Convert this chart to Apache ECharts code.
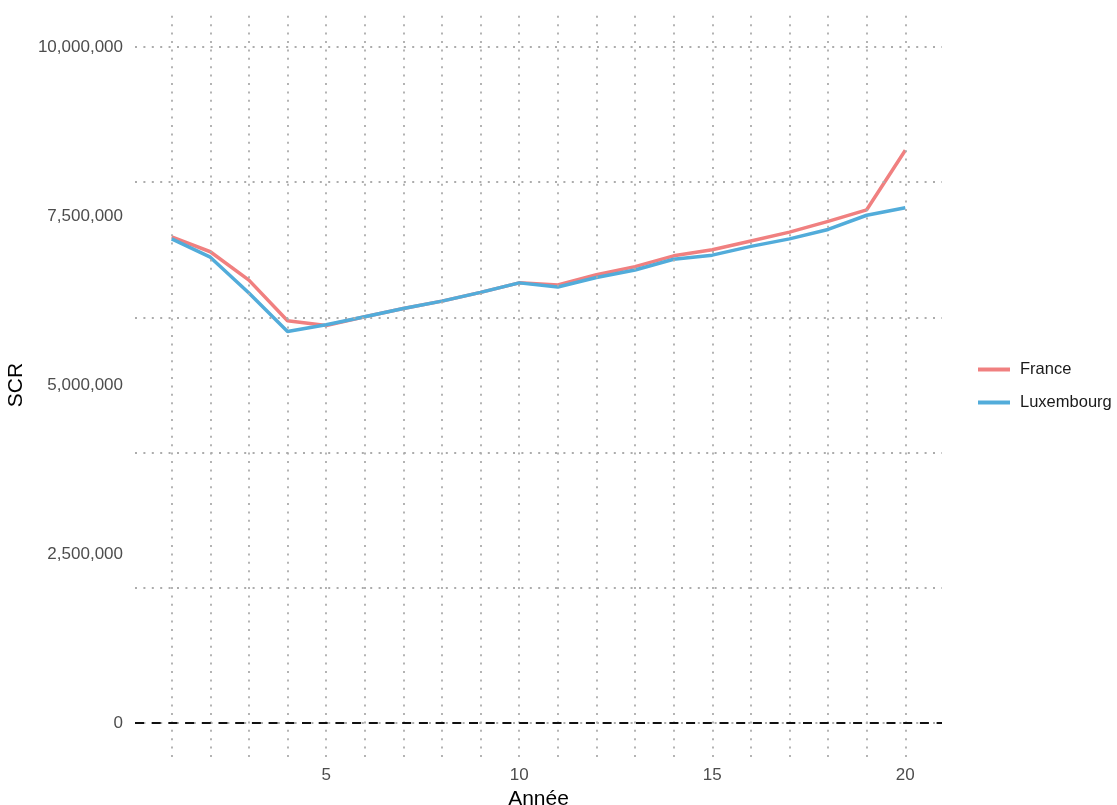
<!DOCTYPE html>
<html>
<head>
<meta charset="utf-8">
<script src="https://cdn.jsdelivr.net/npm/echarts@6/dist/echarts.min.js"></script>
<style>html,body{margin:0;padding:0;background:#fff}#c{width:1117px;height:805px}</style>
</head>
<body>
<div id="c"></div>
<script>
const years = [1,2,3,4,5,6,7,8,9,10,11,12,13,14,15,16,17,18,19,20];
const france = [7190000,6970000,6550000,5950000,5880000,6010000,6130000,6240000,6370000,6510000,6480000,6630000,6750000,6910000,7000000,7130000,7260000,7420000,7590000,8470000];
const luxembourg = [7160000,6890000,6360000,5790000,5890000,6010000,6130000,6240000,6370000,6510000,6450000,6590000,6700000,6860000,6920000,7050000,7160000,7300000,7510000,7620000];
const yLabelTicks = [0,2500000,5000000,7500000,10000000];
const xLabelTicks = [5,10,15,20];
const yGrid = [0,2000000,4000000,6000000,8000000,10000000];
const xGrid = years;

const font = '"Liberation Sans", Arial, sans-serif';
const gridStyle = {color:'#acacac', width:1.8, type:[2,6.4]};
const chart = echarts.init(document.getElementById('c'), null, {renderer:'canvas'});
const fmt = v => Math.round(v).toLocaleString('en-US');

chart.setOption({
  animation:false,
  backgroundColor:'#fff',
  grid:{left:135, right:175, top:13, bottom:48, containLabel:false, outerBoundsMode:'none'},
  xAxis:{type:'value', min:0.05, max:20.95,
    name:'Année', nameLocation:'middle', nameGap:29,
    nameTextStyle:{fontFamily:font, fontSize:21, color:'#000'},
    axisLine:{show:false}, axisTick:{show:false}, splitLine:{show:false},
    axisLabel:{customValues:xLabelTicks, fontFamily:font, fontSize:17, color:'#4d4d4d', margin:10}},
  yAxis:{type:'value', min:-500000, max:10500000,
    name:'SCR', nameLocation:'middle', nameGap:100, nameRotate:90,
    nameTextStyle:{fontFamily:font, fontSize:21, color:'#000'},
    axisLine:{show:false}, axisTick:{show:false}, splitLine:{show:false},
    axisLabel:{customValues:yLabelTicks, formatter:fmt, fontFamily:font, fontSize:17, color:'#4d4d4d', margin:12}},
  legend:{orient:'vertical', left:973, top:356, itemGap:16, itemWidth:32, itemHeight:4, icon:'rect',
    textStyle:{fontFamily:font, fontSize:16.5, color:'#1a1a1a', padding:[0,0,0,5]},
    data:['France','Luxembourg']},
  series:[
    {type:'line', name:'grid', data:[], z:1, silent:true,
      markLine:{silent:true, symbol:['none','none'], label:{show:false}, animation:false,
        lineStyle:gridStyle,
        data:[...yGrid.map(v=>({yAxis:v})), ...xGrid.map(v=>({xAxis:v}))]}},
    {type:'line', name:'zero', data:[], z:2, silent:true,
      markLine:{silent:true, symbol:['none','none'], label:{show:false}, animation:false,
        lineStyle:{color:'#111', width:2, type:[9,7.7]},
        data:[{yAxis:0}]}},
    {type:'line', name:'France', data:years.map((x,i)=>[x,france[i]]), showSymbol:false, symbol:'none',
      itemStyle:{color:'#F08080'}, lineStyle:{color:'#F08080', width:3.5}, z:3},
    {type:'line', name:'Luxembourg', data:years.map((x,i)=>[x,luxembourg[i]]), showSymbol:false, symbol:'none',
      itemStyle:{color:'#52ACDA'}, lineStyle:{color:'#52ACDA', width:3.5}, z:4}
  ]
});
</script>
</body>
</html>
